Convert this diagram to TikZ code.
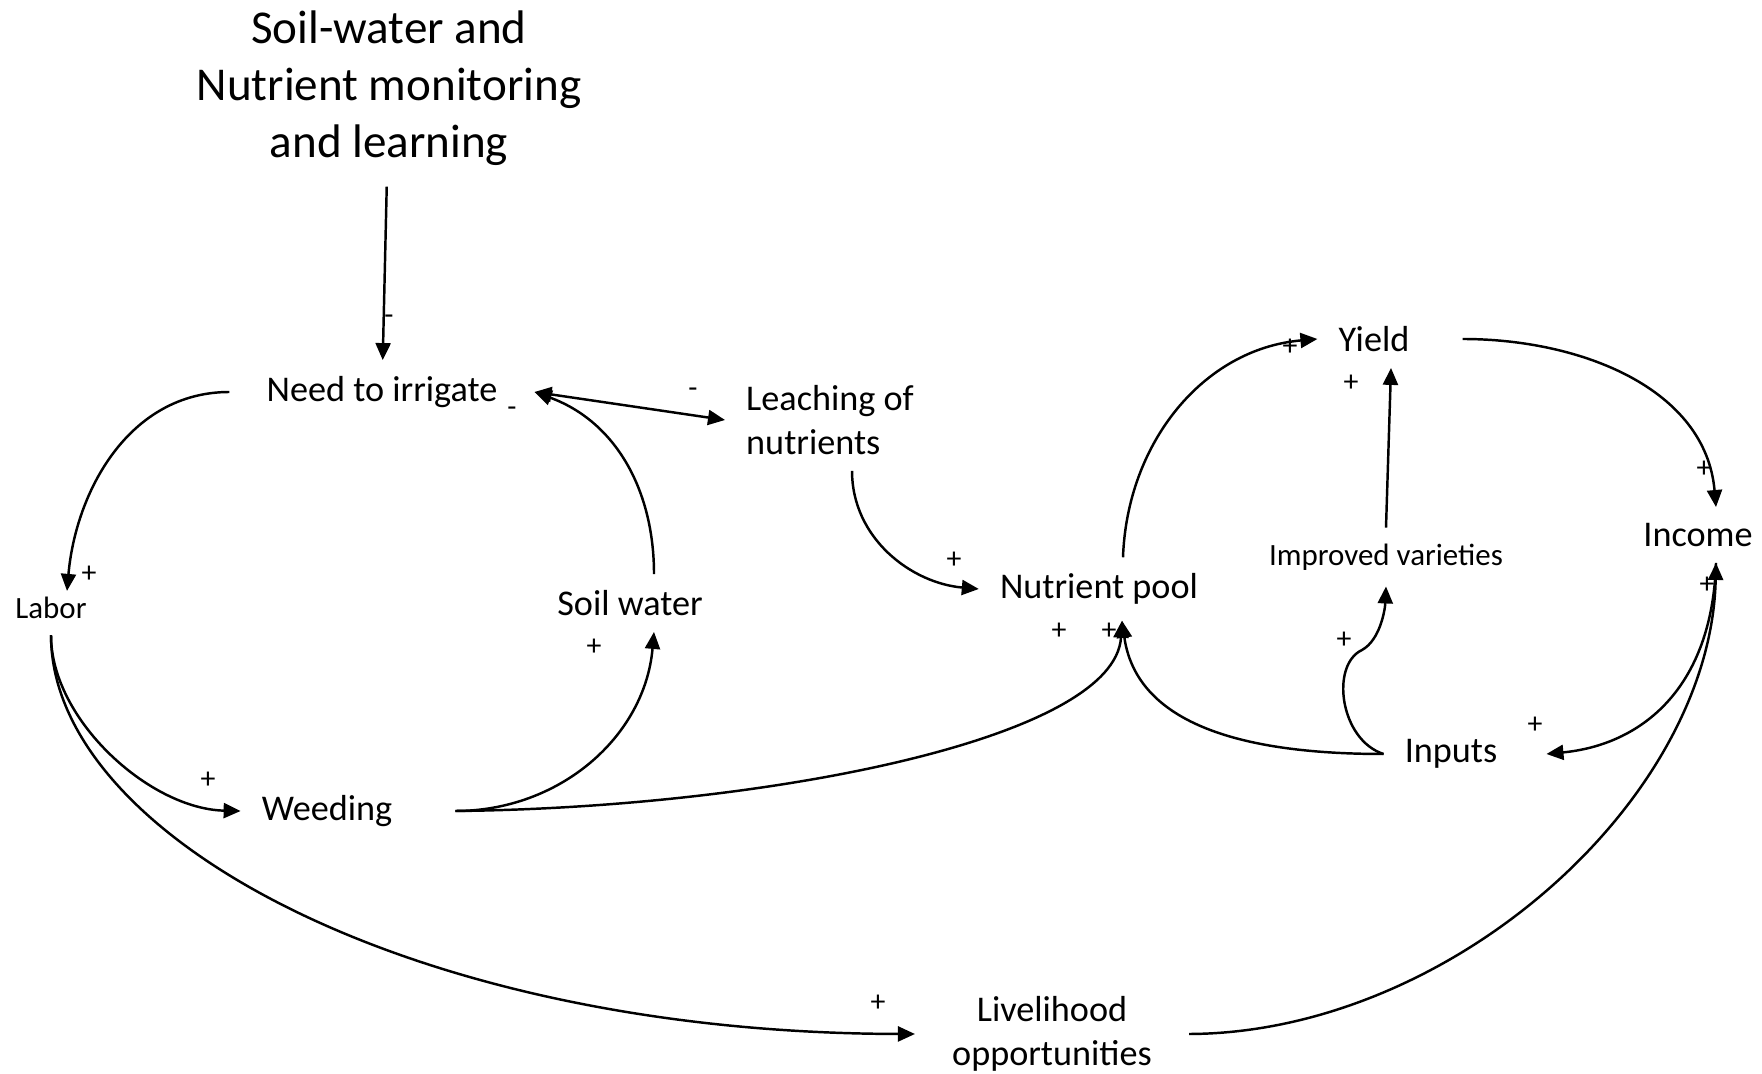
\documentclass[tikz,border=0pt]{standalone}
\usepackage{fontspec}
\setmainfont{Carlito}
\usepackage{tikz}
\usetikzlibrary{arrows.meta}

\begin{document}
\begin{tikzpicture}[x=0.1mm, y=-0.1mm, line width=0.7pt,
    >={Triangle[length=1.7mm, width=1.5mm]},
    var/.style={inner xsep=2mm, inner ysep=1.5mm, font=\fontsize{10.3}{12.5}\selectfont},
    smallvar/.style={inner xsep=2mm, inner ysep=1.5mm, font=\fontsize{8.8}{10.5}\selectfont},
    sgn/.style={inner sep=0pt, font=\fontsize{8.5}{10}\selectfont}]
    \useasboundingbox (0,0) rectangle (1762,1074);

    \node[align=center, inner sep=2mm, font=\fontsize{13.4}{16.2}\selectfont] (title) at (389,88) {Soil-water and\\Nutrient monitoring\\and learning};
    \node[var, inner xsep=3.6mm] (need) at (382,392) {Need to irrigate};
    \node[var, anchor=west, align=left] (leach) at (725,420) {Leaching of\\nutrients};
    \node[smallvar] (labor) at (51,608) {Labor};
    \node[var] (soil) at (630,603) {Soil water};
    \node[var] (weed) at (327,811) {Weeding};
    \node[var] (pool) at (1099,589) {Nutrient pool};
    \node[var] (yield) at (1374,339) {Yield};
    \node[smallvar] (impr) at (1386,557) {Improved varieties};
    \node[var] (inputs) at (1451,754) {Inputs};
    \node[var] (income) at (1698,535) {Income};
    \node[var, align=center, inner xsep=3.6mm] (liveli) at (1052,1034) {Livelihood\\opportunities};

    \draw[->] (title) -- (need);
    \draw[<->] (need.east) -- (leach.west);
    \draw[->] (need.west) to[out=180, in=85] ([xshift=1.6mm, yshift=-1mm]labor.north);
    \draw[->] (labor.south) .. controls (51,720) and (150,809) .. (weed.west);
    \draw[->] (labor.south) .. controls (51,837) and (412,1033) .. (liveli.west);
    \draw[->] ([xshift=4.2mm]weed.east) to[out=0, in=-95] ([xshift=2.4mm]soil.south);
    \draw[->] ([xshift=4.2mm]weed.east) .. controls (760,808) and (1115,740) .. ([xshift=2.3mm]pool.south);
    \draw[->] ([xshift=2.4mm]soil.north) to[out=90, in=-20] (need.east);
    \draw[->] ([xshift=2.2mm]leach.south) to[out=-90, in=175] (pool.west);
    \draw[->] ([xshift=2.4mm]pool.north) to[out=88, in=185] (yield.west);
    \draw[->] (impr.north) -- ([xshift=1.7mm]yield.south);
    \draw[->] (inputs.west) to[out=180, in=-82] ([xshift=2.3mm]pool.south);
    \draw[->] (inputs.west) .. controls (1340,740) and (1330,665) .. (1362,650) .. controls (1380,640) and (1385,610) .. (impr.south);
    \draw[->] ([xshift=3.2mm]yield.east) to[out=0, in=95] ([xshift=1.8mm]income.north);
    \draw[->] ([xshift=1.8mm]income.south) .. controls (1712,690) and (1640,745) .. ([xshift=2.8mm]inputs.east);
    \draw[->] (liveli.east) .. controls (1450,1033) and (1711,800) .. ([xshift=1.8mm]income.south);

    % polarity signs
    \node[sgn] (mtitle) at (389,320) {-};
    \node[sgn] (mneed) at (512,412) {-};
    \node[sgn] (mleach) at (693,393) {-};
    \node[sgn] (plabor) at (89,574) {+};
    \node[sgn] (psoil) at (594,647) {+};
    \node[sgn] (pweed) at (208,780) {+};
    \node[sgn] (pleach) at (954,560) {+};
    \node[sgn] (ppoola) at (1059,631) {+};
    \node[sgn] (ppoolb) at (1109,631) {+};
    \node[sgn] (pliveli) at (878,1003) {+};
    \node[sgn] (pimpr) at (1344,640) {+};
    \node[sgn] (pyielda) at (1290,347) {+};
    \node[sgn] (pyieldb) at (1351,383) {+};
    \node[sgn] (pincomea) at (1704,469) {+};
    \node[sgn] (pincomeb) at (1707,585) {+};
    \node[sgn] (pinputs) at (1535,725) {+};
\end{tikzpicture}
\end{document}
